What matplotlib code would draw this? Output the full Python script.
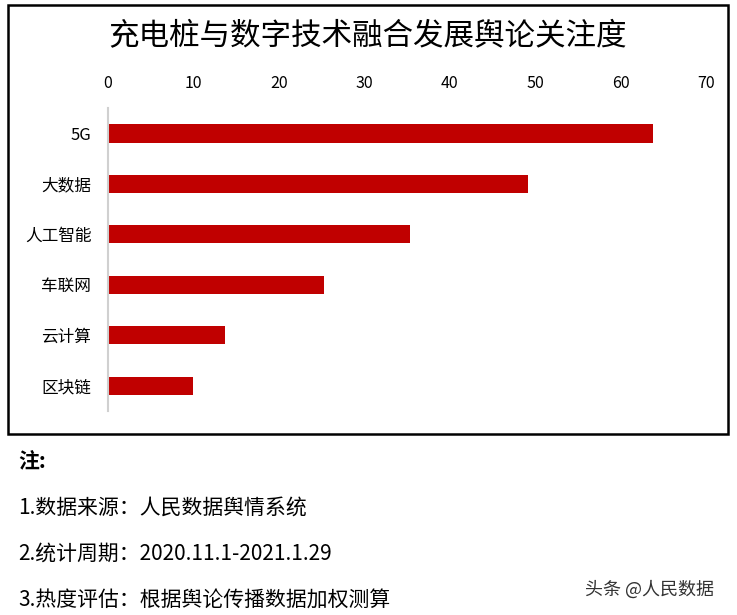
import matplotlib
matplotlib.use("Agg")
import matplotlib.pyplot as plt
from matplotlib.patches import Rectangle

plt.rcParams['font.family'] = ['Noto Sans CJK SC', 'DejaVu Sans']

# data
categories = ['5G', '大数据', '人工智能', '车联网', '云计算', '区块链']
values = [63.8, 49.2, 35.4, 25.3, 13.7, 10.0]
xticks = [0, 10, 20, 30, 40, 50, 60, 70]

title = '充电桩与数字技术融合发展舆论关注度'
notes = ['1.数据来源：人民数据舆情系统',
         '2.统计周期：2020.11.1-2021.1.29',
         '3.热度评估：根据舆论传播数据加权测算']

fig = plt.figure(figsize=(7.37, 6.15), dpi=100)
ax = fig.add_axes([0.1465, 0.332, 0.8115, 0.492])

pos = list(range(len(categories)))
ax.barh(pos, values, height=0.36, color='#C00000')
ax.set_ylim(len(categories) - 0.5, -0.5)
ax.set_xlim(0, 70)
ax.set_yticks(pos)
ax.set_yticklabels(categories, fontsize=12)
ax.set_xticks(xticks)
ax.xaxis.tick_top()
ax.tick_params(axis='x', length=0, pad=12, labelsize=11.5)
ax.tick_params(axis='y', length=0, pad=12)
for s in ['top', 'right', 'bottom']:
    ax.spines[s].set_visible(False)
ax.spines['left'].set_color('#d0d0d0')
ax.spines['left'].set_linewidth(1.5)

# chart frame
fig.patches.append(Rectangle((8 / 737, 1 - 434 / 615), 720 / 737, 429 / 615,
                             transform=fig.transFigure, fill=False,
                             edgecolor='black', linewidth=1.8))

fig.text(0.5 * (113 + 622) / 737, 1 - 37 / 615, title, fontsize=22,
         ha='center', va='center')

fig.text(18 / 737, 1 - 462 / 615, '注:', fontsize=15, fontweight='bold',
         va='center')
for i, t in enumerate(notes):
    fig.text(18 / 737, 1 - (508 + 46 * i) / 615, t, fontsize=15, va='center')

fig.text(585 / 737, 1 - 590 / 615, '头条 @人民数据', fontsize=13,
         color='#333333', va='center')

fig.savefig('out.png', dpi=100)
